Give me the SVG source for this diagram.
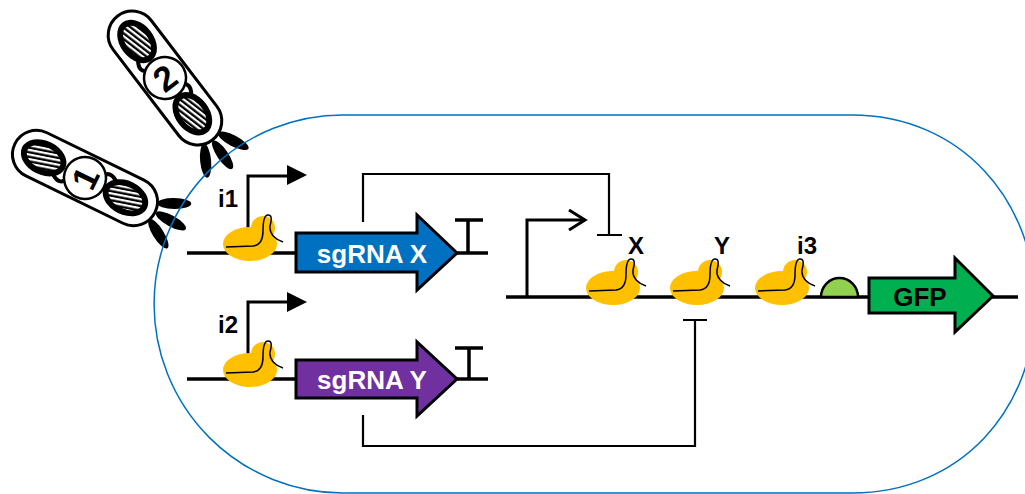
<svg xmlns="http://www.w3.org/2000/svg" width="1025" height="494" viewBox="0 0 1025 494">
  <style>
    .dna{stroke:#000;stroke-width:3.5;fill:none}
    .lbl{font-family:"Liberation Sans",Arial,sans-serif;font-weight:bold;font-size:24px;fill:#000}
    .gene{stroke:#000;stroke-width:3;stroke-linejoin:miter}
    .gtxt{font-family:"Liberation Sans",Arial,sans-serif;font-weight:bold;font-size:26px;text-anchor:middle}
    .rep{stroke:#000;stroke-width:2.2;fill:none}
    .term{stroke:#000;stroke-width:3.5;fill:none}
    .prom{stroke:#000;stroke-width:3;fill:none}
    .cell{fill:none;stroke:#0070C0;stroke-width:1.5}
    .num{font-family:"Liberation Sans",Arial,sans-serif;font-weight:bold;font-size:35px;text-anchor:middle;fill:#000}
  </style>
  <defs>
    <pattern id="stripes" patternUnits="userSpaceOnUse" width="4.5" height="10" patternTransform="rotate(75)">
      <rect width="4.5" height="10" fill="#000"/>
      <rect width="2.2" height="10" fill="#fff"/>
    </pattern>
    <!-- RNA polymerase with nascent transcript; origin = left edge on the DNA line -->
    <g id="rnap">
      <ellipse cx="27" cy="-9" rx="27" ry="17" fill="#FFC000"/>
      <circle cx="40" cy="-25" r="12" fill="#FFC000"/>
      <path d="M3,-6 L30,-7 C38,-8 40,-14 40,-22 C40,-32 41,-38 45,-38 C50,-38 48,-31 47,-27 C46,-19 53,-13 60,-11" fill="none" stroke="#000" stroke-width="1.5"/>
    </g>
    <!-- phage body, long axis along +x, tail fibres at +x end -->
    <g id="phageBody">
      <g fill="#000">
        <ellipse cx="91.4" cy="-16.2" rx="17" ry="5.5" transform="rotate(-25 91.4 -16.2)"/>
        <ellipse cx="96" cy="0.9" rx="17" ry="5.5" transform="rotate(3 96 0.9)"/>
        <ellipse cx="90.4" cy="18" rx="17" ry="5.5" transform="rotate(32 90.4 18)"/>
      </g>
      <rect x="-78" y="-24" width="156" height="48" rx="24" fill="#fff" stroke="#000" stroke-width="3"/>
      <ellipse cx="-46" cy="0" rx="24" ry="17" fill="#000"/>
      <ellipse cx="-46" cy="0" rx="18" ry="11" fill="url(#stripes)"/>
      <ellipse cx="45" cy="0" rx="24" ry="17" fill="#000"/>
      <ellipse cx="45" cy="0" rx="18" ry="11" fill="url(#stripes)"/>
      <path d="M-30,11 Q-20,18 -16,9" fill="none" stroke="#000" stroke-width="4" stroke-linecap="round"/>
      <path d="M29,-11 Q19,-18 15,-9" fill="none" stroke="#000" stroke-width="4" stroke-linecap="round"/>
      <circle cx="0" cy="0" r="21" fill="#fff" stroke="#000" stroke-width="2.5"/>
    </g>
  </defs>

  <!-- phages attached to the cell -->
  <g id="phage1" transform="translate(85,178) rotate(26)">
    <use href="#phageBody"/>
    <text class="num" transform="rotate(-90)" x="0" y="12.5">1</text>
  </g>
  <g id="phage2" transform="translate(165,78) rotate(52.6)">
    <use href="#phageBody"/>
    <text class="num" transform="rotate(-90)" x="0" y="12.5">2</text>
  </g>

  <!-- cell envelope -->
  <path id="cell" class="cell" d="M343,115 L852,115 C960,115 1035,200 1035,304 C1035,410 960,493 852,493 L343,493 A189,189 0 0 1 343,115 Z"/>

  <!-- repression connectors -->
  <g id="connectors">
    <path class="rep" d="M363,222 V174 H609 V235 M597,235 H622"/>
    <path class="rep" d="M363,415 V446 H695 V320 M683,320 H707"/>
  </g>

  <!-- sgRNA X cassette -->
  <g id="cassetteX">
    <line class="dna" x1="187" y1="253" x2="488" y2="253"/>
    <path class="prom" d="M248,240 V176 H289"/>
    <polygon points="287,165 307,175 287,185" fill="#000"/>
    <text class="lbl" x="218" y="207">i1</text>
    <use href="#rnap" x="223" y="253"/>
    <path class="gene" fill="#0070C0" d="M296,233 H417 V215 L457,253 L417,290 V272 H296 Z"/>
    <text class="gtxt" x="372" y="263" fill="#fff">sgRNA X</text>
    <path class="term" d="M468,253 V220 M455,220 H483"/>
  </g>

  <!-- sgRNA Y cassette -->
  <g id="cassetteY">
    <line class="dna" x1="187" y1="379" x2="488" y2="379"/>
    <path class="prom" d="M248,366 V302 H289"/>
    <polygon points="287,292 307,302 287,312" fill="#000"/>
    <text class="lbl" x="218" y="333">i2</text>
    <use href="#rnap" x="223" y="379"/>
    <path class="gene" fill="#7030A0" d="M296,360 H417 V342 L457,379 L417,416 V398 H296 Z"/>
    <text class="gtxt" x="372" y="389" fill="#fff">sgRNA Y</text>
    <path class="term" d="M469,379 V348 M455,348 H483"/>
  </g>

  <!-- GFP reporter -->
  <g id="reporter">
    <line class="dna" x1="506" y1="297" x2="1018" y2="297"/>
    <path class="prom" d="M527,297 V220 H585"/>
    <path class="prom" d="M569,210 L585,220 L569,230"/>
    <use href="#rnap" x="586" y="297"/>
    <use href="#rnap" x="670" y="297"/>
    <use href="#rnap" x="755" y="297"/>
    <text class="lbl" x="628" y="254">X</text>
    <text class="lbl" x="714" y="254">Y</text>
    <text class="lbl" x="797" y="254">i3</text>
    <path d="M821,297 A18.5,19 0 0 1 858,297 Z" fill="#92D050" stroke="#000" stroke-width="2.5"/>
    <path class="gene" fill="#00B050" d="M869,278 H955 V258 L993,296 L955,332 V313 H869 Z"/>
    <text class="gtxt" x="920" y="306" fill="#000">GFP</text>
  </g>
</svg>
